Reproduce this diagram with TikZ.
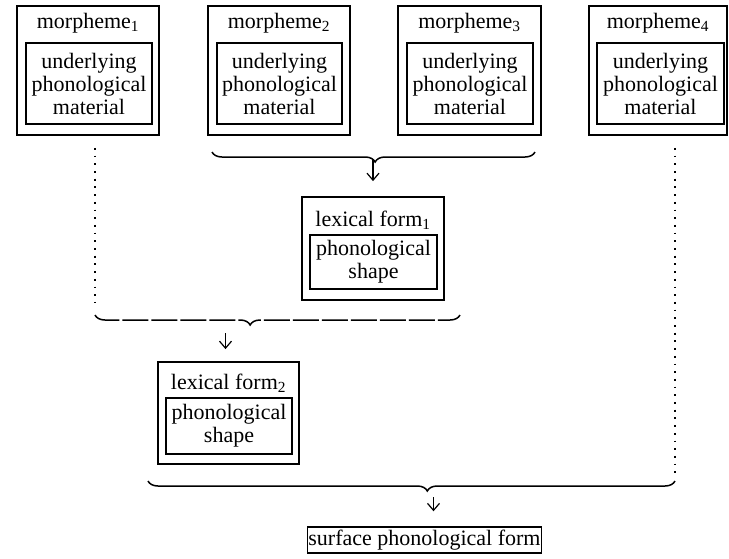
\documentclass[tikz,border=0pt]{standalone}
\usepackage{fontspec}
\setmainfont{LiberationSerif}[Extension=.ttf, UprightFont=*-Regular, BoldFont=*-Bold]
\usetikzlibrary{calc,decorations.pathreplacing,arrows.meta}
\tikzset{
	outerbox/.style={draw, line width=1.8pt, minimum width=142pt, minimum height=129pt, inner sep=0pt},
	innerbox/.style={draw, line width=1.8pt, align=center, inner sep=1pt, minimum width=126pt},
	gather/.style={decorate, decoration={brace, mirror, amplitude=10pt}, line width=1.5pt},
	arr/.style={-{Straight Barb[length=7pt,width=12pt]}, line width=1.2pt},
	dotline/.style={line width=1.8pt, dash pattern=on 1.8pt off 5.9pt}
}

\begin{document}
\begin{tikzpicture}[x=1pt, y=-1pt, font=\fontsize{22}{23}\selectfont]
		%%%%% START %%%%%
		\useasboundingbox (0,0) rectangle (729,558);
		
		\foreach \i/\ox/\ow/\ix/\iw in {1/88/142/89/126, 2/279/142/279.5/125, 3/469.5/143/470/126, 4/658/138/660.5/127} {
			\node[outerbox, minimum width=\ow pt] (m\i) at (\ox,70.5) {};
			\node (m\i t) at (\ox,23) {morpheme\textsubscript{\i}};
			\node[innerbox, minimum width=\iw pt, minimum height=81pt] (m\i u) at (\ix,83.5) {underlying\\phonological\\material};
		}
		
		\node[outerbox, minimum height=103pt] (lf1) at (373,248.5) {};
		\node (lf1t) at (373,220) {lexical form\textsubscript{1}};
		\node[innerbox, minimum width=127pt, minimum height=54pt] (lf1s) at (373.5,262) {phonological\\shape};
		
		\node[outerbox, minimum width=141pt, minimum height=102pt] (lf2) at (228.5,413) {};
		\node (lf2t) at (228.5,383) {lexical form\textsubscript{2}};
		\node[innerbox, minimum height=56pt] (lf2s) at (229,426) {phonological\\shape};
		
		\node[draw, line width=1.5pt, minimum width=225pt, minimum height=26pt, inner sep=1pt] (sf) at (424.5,540) {surface phonological form};
		
		\coordinate (b1w) at (212,152);
		\coordinate (b1e) at (535,152);
		\coordinate (b2w) at (95,315);
		\coordinate (b2e) at (460,315);
		\coordinate (b3w) at (148,481);
		\coordinate (b3e) at (675,481);
		
		\draw[gather, decoration={aspect=0.505}] (b1w) -- (b1e);
		\draw[gather, decoration={aspect=0.425}, dash pattern=on 26pt off 3pt] (b2w) -- (b2e);
		\draw[gather, decoration={aspect=0.53}] (b3w) -- (b3e);
		
		\draw[arr] ($(lf1.north |- b1w)+(0,8)$) -- ($(lf1.north)+(0,-15)$);
		\draw[arr] ($(lf2.north |- b2w)+(-3,18)$) -- ($(lf2.north)+(-3,-12)$);
		\draw[arr] ($(sf.north |- b3w)+(9,16)$) -- ($(sf.north)+(9,-15)$);
		
		\draw[dotline] ($(m1.south -| b2w)+(0,12)$) -- ($(b2w)+(0,-13)$);
		\draw[dotline] ($(m4.south -| b3e)+(0,12)$) -- ($(b3e)+(0,-6)$);
		%%%%% END %%%%%
\end{tikzpicture}
\end{document}
